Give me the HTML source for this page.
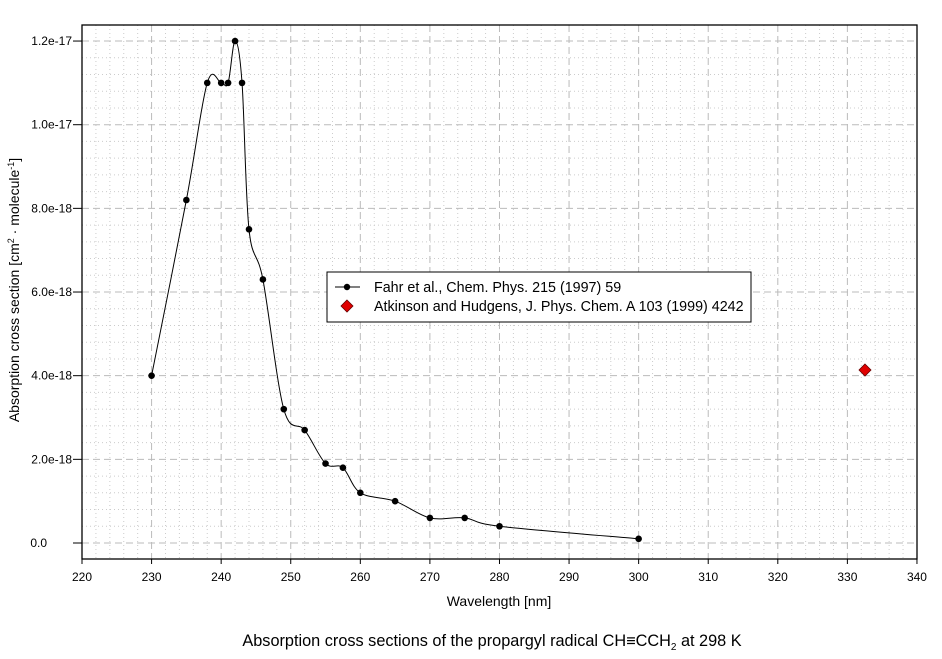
<!DOCTYPE html><html><head><style>body{margin:0;background:#fff}svg{display:block;font-family:"Liberation Sans",Arial,sans-serif}</style></head><body>
<svg id="s" width="942" height="659" xmlns="http://www.w3.org/2000/svg">
<g id="grid"></g>
<rect x="82" y="25" width="835" height="534" fill="none" stroke="#000" stroke-width="1.3"/>
<g id="ticks" font-size="12"></g>
<path id="curve" fill="none" stroke="#000" stroke-width="1"/>
<g id="pts"></g>
<polygon points="865,364 871,370 865,376 859,370" fill="#e00000" stroke="#600" stroke-width="0.8"/>
<rect x="327" y="272" width="424" height="50" fill="#fff" stroke="#000"/>
<line x1="335" y1="287" x2="360" y2="287" stroke="#000"/><circle cx="347" cy="287" r="3.2"/>
<text x="374" y="292" font-size="14.3">Fahr et al., Chem. Phys. 215 (1997) 59</text>
<polygon points="347,300 353,306 347,312 341,306" fill="#e00000" stroke="#600" stroke-width="0.8"/>
<text x="374" y="311" font-size="14.3">Atkinson and Hudgens, J. Phys. Chem. A 103 (1999) 4242</text>
<text x="499" y="606" font-size="14" text-anchor="middle">Wavelength [nm]</text>
<text transform="translate(19,290) rotate(-90)" font-size="14" text-anchor="middle">Absorption cross section [cm<tspan font-size="9" dy="-5">2</tspan><tspan dy="5"> · molecule</tspan><tspan font-size="9" dy="-5">-1</tspan><tspan dy="5">]</tspan></text>
<text x="492" y="646" font-size="16.3" text-anchor="middle">Absorption cross sections of the propargyl radical CH≡CCH<tspan font-size="10" dy="4">2</tspan><tspan dy="-4"> at 298 K</tspan></text>
</svg>
<script>
const X=w=>82+(w-220)*6.958, Y=v=>543-v*41.83;
let g='',t='';
for(let w=220;w<=340;w+=2){const x=X(w);if(w>220&&w<340)g+=`<line x1="${x}" y1="25" x2="${x}" y2="559" stroke="${w%10?'#ccc':'#bbb'}" ${w%10?'stroke-dasharray="1,3"':'stroke-dasharray="7,4"'}/>`;
 if(w%10==0){t+=`<line x1="${x}" y1="559" x2="${x}" y2="564" stroke="#000"/><text x="${x}" y="581" text-anchor="middle">${w}</text>`;}}
for(let i=0;i<=32;i++){const v=i*0.4,y=Y(v);if(y<26)break;const maj=i%5==0;
 g+=`<line x1="82" y1="${y}" x2="917" y2="${y}" stroke="${maj?'#bbb':'#ccc'}" ${maj?'stroke-dasharray="7,4"':'stroke-dasharray="1,3"'}/>`;
 if(maj){t+=`<line x1="73" y1="${y}" x2="82" y2="${y}" stroke="#000"/><text x="${v==0?47:72}" y="${y+4}" text-anchor="end">${v==0?'0.0':(v<10?v.toFixed(1)+'e-18':(v/10).toFixed(1)+'e-17')}</text>`;}}
document.getElementById('grid').innerHTML=g;document.getElementById('ticks').innerHTML=t;
const d=[[230,4],[235,8.2],[238,11],[240,11],[241,11],[242,12],[243,11],[244,7.5],[246,6.3],[249,3.2],[252,2.7],[255,1.9],[257.5,1.8],[260,1.2],[265,1],[270,.6],[275,.6],[280,.4],[300,.1]];
const P=d.map(a=>[X(a[0]),Y(a[1])]);
let p=`M${P[0]}`;
for(let i=0;i<P.length-1;i++){const p0=P[i-1]||P[i],p1=P[i],p2=P[i+1],p3=P[i+2]||p2;
 p+=` C${p1[0]+(p2[0]-p0[0])/6},${p1[1]+(p2[1]-p0[1])/6} ${p2[0]-(p3[0]-p1[0])/6},${p2[1]-(p3[1]-p1[1])/6} ${p2[0]},${p2[1]}`;}
document.getElementById('curve').setAttribute('d',p);
document.getElementById('pts').innerHTML=P.map(q=>`<circle cx="${q[0]}" cy="${q[1]}" r="3.3"/>`).join('');
</script></body></html>
